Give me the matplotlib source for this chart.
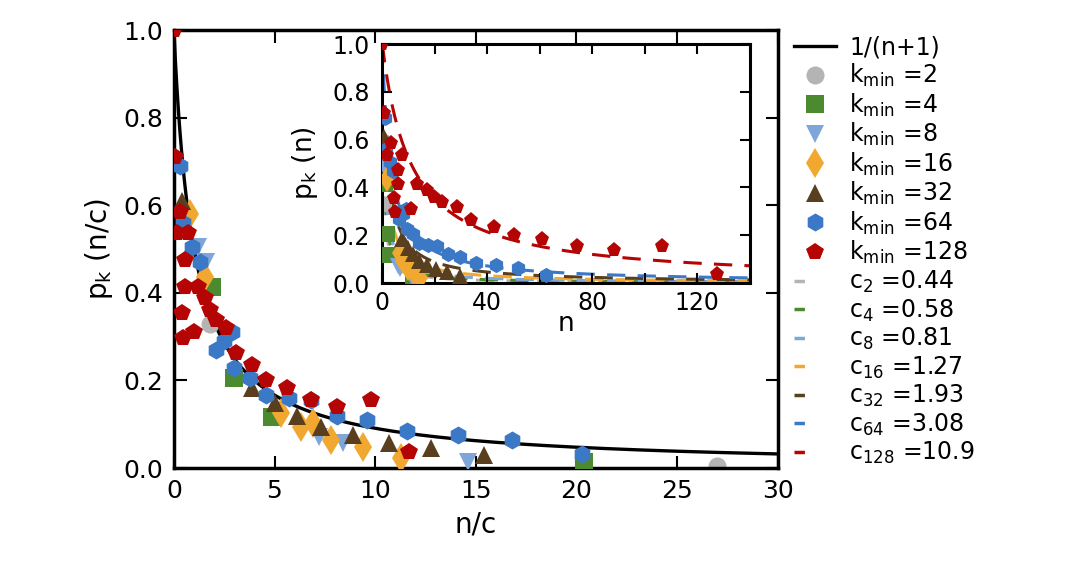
import numpy as np
import matplotlib
matplotlib.use('Agg')
import matplotlib.pyplot as plt
from matplotlib.lines import Line2D

# k_min values, fitted c values and style for each series
kmins = [2, 4, 8, 16, 32, 64, 128]
cvals = [0.44, 0.58, 0.81, 1.27, 1.93, 3.08, 10.9]
colors = ['#b4b4b4', '#4b8a2e', '#7ea6d8', '#f0a830', '#5a3f1f', '#3b78c6', '#b50404']
markers = ['o', 's', 'v', 'd', '^', 'h', 'p']

# rescaled data points (n/c, p_k)
x_k2 = [1.8, 27.0]
p_k2 = [0.33, 0.005]
x_k4 = [1.9, 3.0, 4.9, 20.4]
p_k4 = [0.413, 0.205, 0.117, 0.014]
x_k8 = [1.2, 1.6, 7.2, 8.4, 14.6]
p_k8 = [0.505, 0.47, 0.07, 0.057, 0.014]
x_k16 = [0.8, 1.55, 5.3, 6.3, 6.9, 7.8, 9.4, 11.3]
p_k16 = [0.58, 0.436, 0.126, 0.094, 0.103, 0.064, 0.048, 0.023]
x_k32 = [0.4, 3.9, 5.0, 6.1, 7.3, 8.9, 10.7, 12.8, 15.4]
p_k32 = [0.61, 0.183, 0.148, 0.12, 0.094, 0.075, 0.057, 0.045, 0.03]
x_k64 = [0.3, 0.45, 0.9, 1.3, 2.1, 2.5, 2.9, 3.0, 3.8, 4.6, 5.7, 6.8, 8.1, 9.6, 11.6, 14.1, 16.8, 20.3]
p_k64 = [0.69, 0.56, 0.505, 0.47, 0.27, 0.29, 0.31, 0.228, 0.205, 0.167, 0.16, 0.155, 0.12, 0.11,
         0.085, 0.076, 0.063, 0.032]
x_k128 = [0.0, 0.05, 0.3, 0.15, 0.7, 0.55, 0.55, 1.2, 0.4, 0.45, 1.0, 1.55, 1.8, 2.1, 2.6, 3.1,
          3.9, 4.6, 5.6, 6.8, 8.1, 9.8, 11.7]
p_k128 = [1.0, 0.71, 0.585, 0.537, 0.537, 0.475, 0.413, 0.413, 0.354, 0.297, 0.31, 0.388, 0.36,
          0.338, 0.32, 0.263, 0.235, 0.2, 0.183, 0.155, 0.14, 0.155, 0.037]

xs = [x_k2, x_k4, x_k8, x_k16, x_k32, x_k64, x_k128]
ps = [p_k2, p_k4, p_k8, p_k16, p_k32, p_k64, p_k128]

plt.rcParams['font.family'] = ['DejaVu Sans']
fig = plt.figure(figsize=(10.8, 5.8), dpi=100)

# main panel
ax = fig.add_axes([0.161, 0.193, 0.559, 0.755])
xx = np.linspace(0, 30, 400)
ax.plot(xx, 1.0 / (xx + 1), color='black', lw=2.4, zorder=1)
for i in range(7):
    ax.plot(xs[i], ps[i], linestyle='none', marker=markers[i], color=colors[i],
            markersize=13 if markers[i] != 'd' else 15, markeredgewidth=0, zorder=2 + i)
ax.set_xlim(0, 30)
ax.set_ylim(0, 1.0)
ax.set_xticks([0, 5, 10, 15, 20, 25, 30])
ax.set_yticks([0.0, 0.2, 0.4, 0.6, 0.8, 1.0])
ax.set_yticklabels(['0.0', '0.2', '0.4', '0.6', '0.8', '1.0'])
ax.tick_params(direction='in', length=9, width=1.5, top=True, right=True, labelsize=18)
ax.tick_params(axis='x', pad=8)
ax.tick_params(axis='y', pad=8)
ax.set_xlabel('n/c', fontsize=20, labelpad=5)
ax.set_ylabel(r'$\mathregular{p_k}$ (n/c)', fontsize=20, labelpad=6)
for s in ax.spines.values():
    s.set_linewidth(2.5)

# inset: raw n
axi = fig.add_axes([0.354, 0.512, 0.340, 0.412])
nn = np.linspace(0, 140, 300)
for i in range(7):
    axi.plot(nn, 1.0 / (nn / cvals[i] + 1), color=colors[i], lw=2.2, linestyle=(0, (6, 4)), zorder=1)
for i in range(7):
    axi.plot(np.array(xs[i]) * cvals[i], ps[i], linestyle='none', marker=markers[i], color=colors[i],
             markersize=11 if markers[i] != 'd' else 13, markeredgewidth=0, zorder=2 + i)
axi.set_xlim(0, 140)
axi.set_ylim(0, 1.0)
axi.set_xticks([0, 20, 40, 60, 80, 100, 120, 140])
axi.set_xticklabels(['0', '', '40', '', '80', '', '120', ''])
axi.set_yticks([0.0, 0.2, 0.4, 0.6, 0.8, 1.0])
axi.set_yticklabels(['0.0', '0.2', '0.4', '0.6', '0.8', '1.0'])
axi.tick_params(direction='in', length=7, width=1.5, top=True, right=True, labelsize=17)
axi.tick_params(axis='y', pad=9)
axi.tick_params(axis='x', pad=6)
axi.set_xlabel('n', fontsize=19, labelpad=-3)
axi.set_ylabel(r'$\mathregular{p_k}$ (n)', fontsize=19, labelpad=9)
for s in axi.spines.values():
    s.set_linewidth(2.2)

# legend outside, right side
handles = [Line2D([], [], color='black', lw=2.4)]
labels = ['1/(n+1)']
for i in range(7):
    handles.append(Line2D([], [], linestyle='none', marker=markers[i], color=colors[i],
                          markersize=13 if markers[i] != 'd' else 15, markeredgewidth=0))
    labels.append(r'$\mathregular{k_{min}}$ =%d' % kmins[i])
for i in range(7):
    handles.append(Line2D([], [], color=colors[i], lw=2.5, linestyle=(0, (3, 30))))
    labels.append(r'$\mathregular{c_{%d}}$ =%s' % (kmins[i], str(cvals[i])))
fig.legend(handles, labels, loc='upper left', bbox_to_anchor=(0.726, 0.955), frameon=False,
           fontsize=17, handlelength=1.8, handletextpad=0.55, labelspacing=0.1, borderaxespad=0)

fig.savefig('out.png', dpi=100)
